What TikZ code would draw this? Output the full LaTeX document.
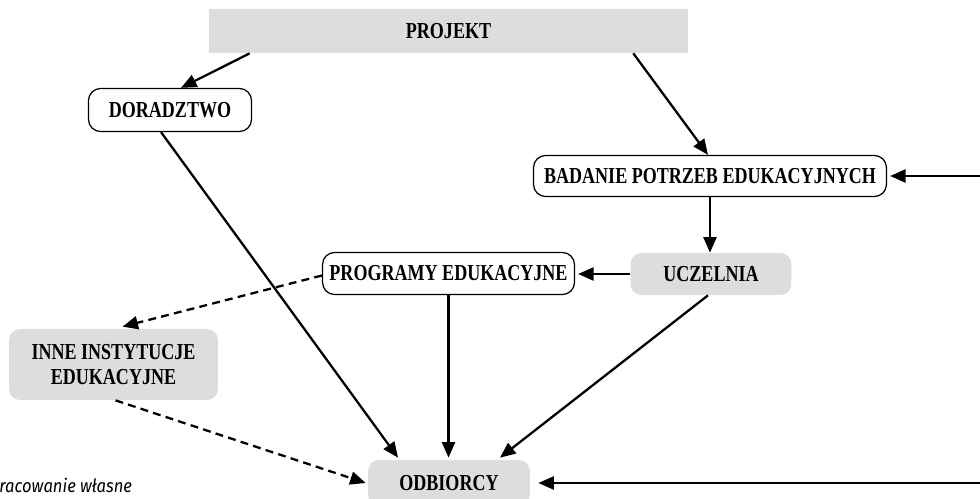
\documentclass[tikz,border=0pt]{standalone}
\usepackage{fontspec}
\setmainfont[FakeStretch=0.79]{Liberation Serif}
\newfontfamily\notefont[FakeStretch=0.9]{Fira Sans}
\usetikzlibrary{arrows.meta,calc}

\definecolor{boxgray}{HTML}{DCDDDE}

\tikzset{
  lbl/.style={font=\fontsize{13}{14.5}\selectfont\bfseries, text=black, align=center, inner sep=0pt},
  whitebox/.style={lbl, draw=black, line width=0.7pt, fill=white, rounded corners=0.24cm},
  graybox/.style={lbl, fill=boxgray, rounded corners=0.22cm},
  flat/.style={lbl, fill=boxgray},
  conn/.style={line width=1.3pt, -{Triangle[length=3.1mm,width=2.6mm]}},
  dconn/.style={conn, dash pattern=on 4.5pt off 3pt},
}

\begin{document}
\begin{tikzpicture}[x=0.02cm, y=-0.02cm]
  \useasboundingbox (0,0) rectangle (980,499);

  % boxes
  \node[flat, minimum width=9.58cm, minimum height=0.88cm] (projekt) at (448.5,31) {PROJEKT};
  \node[whitebox, minimum width=3.26cm, minimum height=0.86cm] (dor) at (170,110) {DORADZTWO};
  \node[whitebox, minimum width=7.06cm, minimum height=0.82cm] (bad) at (710,176) {BADANIE POTRZEB EDUKACYJNYCH};
  \node[graybox, minimum width=3.22cm, minimum height=0.84cm] (ucz) at (711,274) {UCZELNIA};
  \node[whitebox, minimum width=5.04cm, minimum height=0.84cm] (prog) at (448.5,273.5) {PROGRAMY EDUKACYJNE};
  \node[graybox, minimum width=4.18cm, minimum height=1.42cm] (inne) at (113.5,364.5) {INNE INSTYTUCJE\\EDUKACYJNE};
  \node[graybox, minimum width=3.24cm, minimum height=0.92cm] (odb) at (449,483) {ODBIORCY};

  % free ends on the right margin
  \coordinate (rtop) at (980,176);
  \coordinate (rbot) at (980,483);

  % connectors
  \draw[conn] ($(projekt.south west)+(41,0)$) -- ($(dor.north)+(11,0)$);
  \draw[conn] ($(projekt.south east)+(-55,0)$) -- ($(bad.north)+(-2,0)$);
  \draw[conn] (rtop) -- ($(bad.east)+(3,0)$);
  \draw[conn] (bad.south) -- (bad.south |- ucz.north);
  \draw[conn] (ucz.west) -- ($(ucz.west -| prog.east)+(3,0)$);
  \draw[conn] ($(dor.south)+(-9,0)$) -- ($(odb.north)+(-51,-2)$);
  \draw[conn] (prog.south) -- ($(prog.south |- odb.north)+(0,-2)$);
  \draw[conn] ($(ucz.south)+(-3,0)$) -- ($(odb.north)+(51,-2)$);
  \draw[conn] (rbot) -- ($(odb.east)+(8,0)$);
  \draw[dconn] ($(prog.west)+(0,2)$) -- ($(inne.north)+(9,-2)$);
  \draw[dconn] ($(inne.south)+(2,0)$) -- ($(odb.west)+(-2,0)$);

  % source note
  \node[anchor=base west, inner sep=0pt, font=\notefont\itshape\fontsize{10.5}{12}\selectfont] (note) at (-1,493) {racowanie własne};
\end{tikzpicture}
\end{document}
